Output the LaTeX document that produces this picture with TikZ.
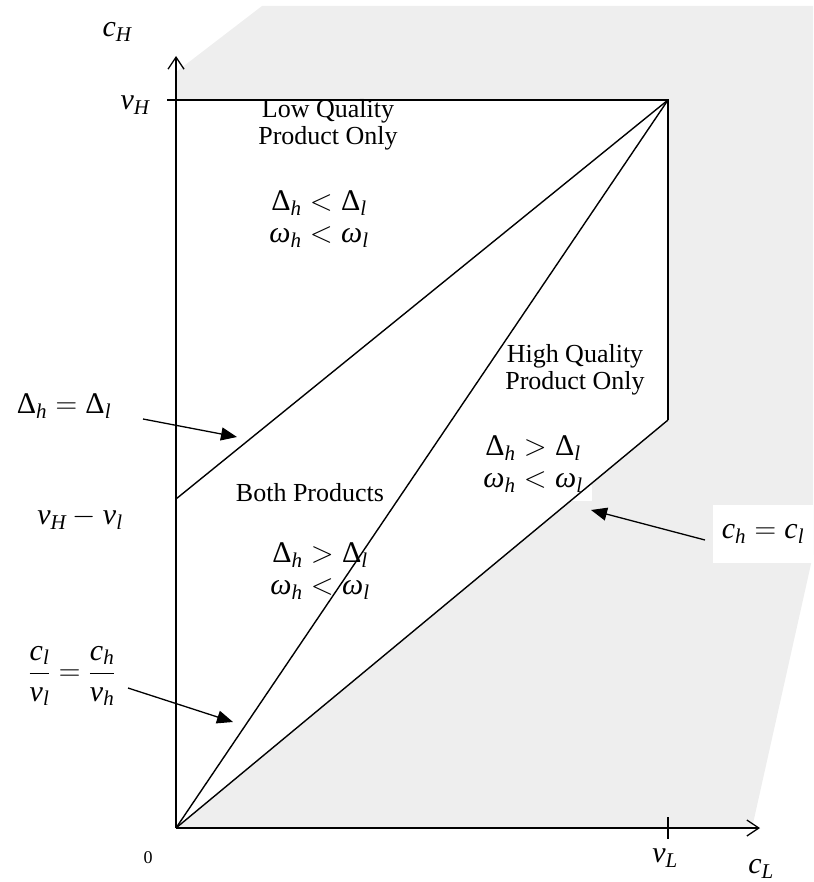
\RequirePackage{fix-cm}
\documentclass[tikz,border=0pt]{standalone}
\usepackage{amsmath}
\usepackage{fontspec}
\setmainfont{Liberation Serif}
\usetikzlibrary{arrows.meta}
\newcommand{\iv}[1]{\text{\itshape #1}}
\newcommand{\Dl}{\text{Δ}}
\newcommand{\om}{\text{\itshape ω}}
\definecolor{bggray}{HTML}{EEEEEE}
\begin{document}
\begin{tikzpicture}[x=1pt,y=-1pt,
  ln/.style={line width=1.4pt},
  axisln/.style={line width=1.3pt,-{Straight Barb[length=12pt,width=16pt,line width=1.3pt]}},
  ptr/.style={line width=1.3pt,-{Triangle[length=16pt,width=13pt]}},
  txt/.style={font=\fontsize{26}{26.5}\selectfont,align=center,inner sep=0pt},
  mth/.style={font=\fontsize{30}{36}\selectfont,align=center,inner sep=0pt},
  small/.style={font=\fontsize{18}{20}\selectfont,inner sep=0pt}]
\useasboundingbox (0,0) rectangle (813,882);
% background
\fill[bggray] (176,72) -- (262,6) -- (813,6) -- (813,555) -- (752,828) -- (176,828) -- cycle;
\coordinate (O) at (176,828);
\coordinate (Yt) at (176,56);
\coordinate (Xt) at (760,828);
\coordinate (VHt) at (167,100);
\coordinate (VH) at (176,100);
\coordinate (TR) at (668,100);
\coordinate (BR) at (668,420);
\coordinate (VHL) at (176,499);
\coordinate (VLa) at (668,817);
\coordinate (VLb) at (668,839);
\fill[white] (O) -- (VH) -- (TR) -- (BR) -- cycle;
% white-backed labels
\node[mth,fill=white,inner xsep=9pt,inner ysep=9pt] (ineqC) at (533,464)
  {$\Dl_{\iv{h}} > \Dl_{\iv{l}}$\\[-4pt] $\om_{\iv{h}} < \om_{\iv{l}}$};
\node[mth,fill=white,minimum width=100pt,minimum height=58pt] (chcl) at (763,534)
  {$\iv{c}_{\iv{h}} = \iv{c}_{\iv{l}}$};
% axes and lines
\draw[axisln] (O) -- (Yt);
\draw[axisln] (O) -- (Xt);
\draw[ln] (VHt) -- (TR) -- (BR);
\draw[ln] (O) -- (BR);
\draw[ln] (O) -- (TR);
\draw[ln] (VHL) -- (TR);
\draw[ln] (VLa) -- (VLb);
% labels
\node[mth] (cH) at (117,32) {$\iv{c}_{\iv{H}}$};
\node[mth] (vH) at (135,105) {$\iv{v}_{\iv{H}}$};
\node[txt] (low) at (328,125) {Low Quality\\Product Only};
\node[mth] (ineqA) at (319,219) {$\Dl_{\iv{h}} < \Dl_{\iv{l}}$\\[-4pt] $\om_{\iv{h}} < \om_{\iv{l}}$};
\node[txt] (high) at (575,370) {High Quality\\Product Only};
\node[txt] (both) at (310,493) {Both Products};
\node[mth] (ineqB) at (320,571) {$\Dl_{\iv{h}} > \Dl_{\iv{l}}$\\[-4pt] $\om_{\iv{h}} < \om_{\iv{l}}$};
\node[mth] (DeqD) at (64,406) {$\Dl_{\iv{h}} = \Dl_{\iv{l}}$};
\node[mth] (vHvl) at (80,518) {$\iv{v}_{\iv{H}} - \iv{v}_{\iv{l}}$};
\node[mth] (frac) at (72,676) {$\dfrac{\iv{c}_{\iv{l}}}{\iv{v}_{\iv{l}}} = \dfrac{\iv{c}_{\iv{h}}}{\iv{v}_{\iv{h}}}$};
\node[small] (zero) at (148,858) {0};
\node[mth] (vL) at (665,858) {$\iv{v}_{\iv{L}}$};
\node[mth] (cL) at (761,869) {$\iv{c}_{\iv{L}}$};
% pointers
\coordinate (pA) at (143,419);
\coordinate (pAt) at (237,437);
\coordinate (pB) at (128,688);
\coordinate (pBt) at (233,722);
\coordinate (pC) at (705,540);
\coordinate (pCt) at (591,510);
\draw[ptr] (pA) -- (pAt);
\draw[ptr] (pB) -- (pBt);
\draw[ptr] (pC) -- (pCt);
\end{tikzpicture}
\end{document}
